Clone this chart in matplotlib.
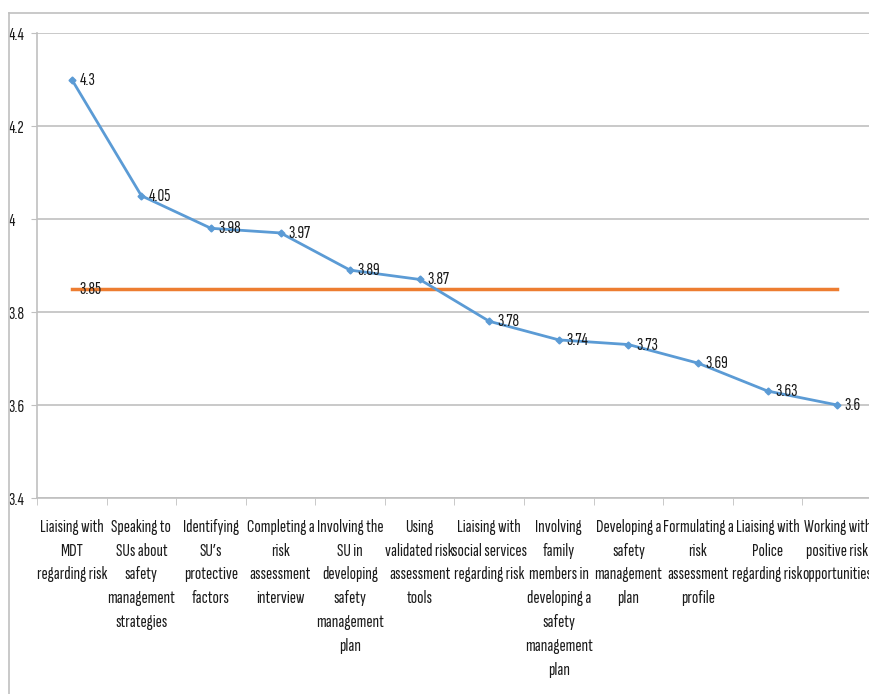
import matplotlib.pyplot as plt
from matplotlib.lines import Line2D
import numpy as np

categories = [
    "Liaising with\nMDT\nregarding risk",
    "Speaking to\nSUs about\nsafety\nmanagement\nstrategies",
    "Identifying\nSU’s\nprotective\nfactors",
    "Completing a\nrisk\nassessment\ninterview",
    "Involving the\nSU in\ndeveloping\nsafety\nmanagement\nplan",
    "Using\nvalidated risk\nassessment\ntools",
    "Liaising with\nsocial services\nregarding risk",
    "Involving\nfamily\nmembers in\ndeveloping a\nsafety\nmanagement\nplan",
    "Developing a\nsafety\nmanagement\nplan",
    "Formulating a\nrisk\nassessment\nprofile",
    "Liaising with\nPolice\nregarding risk",
    "Working with\npositive risk\nopportunities",
]
scores = [4.3, 4.05, 3.98, 3.97, 3.89, 3.87, 3.78, 3.74, 3.73, 3.69, 3.63, 3.6]
mean_score = 3.85
y_ticks = [3.4, 3.6, 3.8, 4.0, 4.2, 4.4]
y_labels = ["3.4", "3.6", "3.8", "4", "4.2", "4.4"]

plt.rcParams['font.family'] = ['Sofia Sans Extra Condensed', 'DejaVu Sans']
grid_col = '#c0c0c0'
txt_col = '#1a1a1a'
fs = 13.5

W, H = 870, 694
fig = plt.figure(figsize=(W / 100, H / 100), dpi=100)
ax = fig.add_axes([37 / W, 1 - 498 / H, 835 / W, 465 / H])

# chart frame (top and left edges)
fig.add_artist(Line2D([9 / W, 1.0], [1 - 13 / H] * 2, color=grid_col, lw=1.2))
fig.add_artist(Line2D([9 / W] * 2, [0, 1 - 13 / H], color=grid_col, lw=1.2))

x = np.arange(len(categories))
ax.plot(x, scores, color='#5b9bd5', lw=2, marker='D', ms=3.5, zorder=3)
ax.plot([x[0], x[-1]], [mean_score] * 2, color='#ed7d31', lw=2.5, zorder=2)

for xi, v in zip(x, scores):
    ax.annotate(f"{v:g}", (xi, v), xytext=(5.5, 0), textcoords='offset points',
                va='center', ha='left', fontsize=fs, color=txt_col, zorder=4)
ax.annotate(f"{mean_score:g}", (x[0], mean_score), xytext=(5.5, 0),
            textcoords='offset points', va='center', ha='left', fontsize=fs,
            color=txt_col, zorder=4)

ax.set_xlim(-0.5, len(categories) - 0.5)
ax.set_ylim(3.4, 4.4)
ax.set_yticks(y_ticks)
ax.set_yticklabels(y_labels, ha='left', fontsize=fs, color=txt_col)
ax.tick_params(axis='y', length=4, color=grid_col, pad=16.5)
ax.yaxis.grid(True, color=grid_col, lw=1.2)
ax.set_axisbelow(True)

# category labels centred, ticks between categories
ax.set_xticks(x)
ax.set_xticklabels(categories, fontsize=fs, color=txt_col, linespacing=1.6)
ax.tick_params(axis='x', length=0, pad=15)
ax.set_xticks(np.arange(len(categories) + 1) - 0.5, minor=True)
ax.tick_params(axis='x', which='minor', length=5, color=grid_col)

for side in ['top', 'right']:
    ax.spines[side].set_visible(False)
for side in ['left', 'bottom']:
    ax.spines[side].set_color(grid_col)
    ax.spines[side].set_linewidth(1.2)

fig.savefig('out.png', dpi=100)
